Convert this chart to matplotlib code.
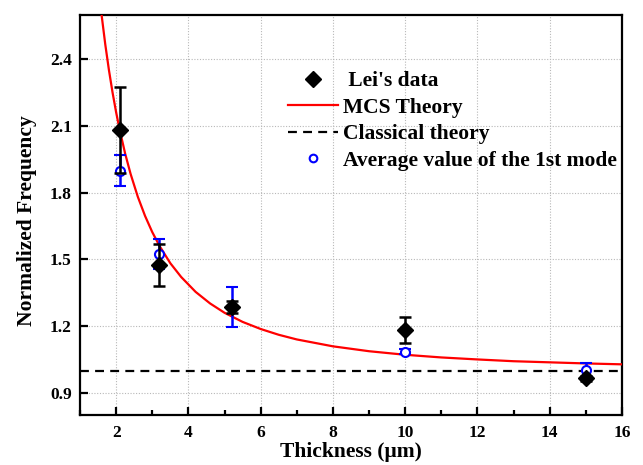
import matplotlib
matplotlib.use("Agg")
import matplotlib.pyplot as plt
from matplotlib.lines import Line2D
from matplotlib.ticker import MultipleLocator

plt.rcParams['font.family'] = ['Liberation Serif', 'DejaVu Serif']
plt.rcParams['font.weight'] = 'bold'
plt.rcParams['mathtext.default'] = 'bf'

# Lei's data
lei_x = [2.1, 3.2, 5.2, 10, 15]
lei_y = [2.083, 1.475, 1.285, 1.183, 0.965]
lei_err = [0.195, 0.095, 0.026, 0.06, 0.01]

# Average value of the 1st mode
avg_x = [2.1, 3.2, 5.2, 10, 15]
avg_y = [1.900, 1.525, 1.287, 1.085, 1.003]
avg_err = [0.07, 0.066, 0.09, 0.01, 0.03]

# MCS theory curve
mcs_x = [1.6, 1.7, 1.8, 1.9, 2.0, 2.1, 2.25, 2.4, 2.6, 2.8, 3.0, 3.2, 3.5, 3.8,
         4.2, 4.6, 5.0, 5.5, 6.0, 6.5, 7.0, 8.0, 9.0, 10, 11, 12, 13, 14, 15, 16]
mcs_y = [2.597, 2.467, 2.353, 2.252, 2.162, 2.082, 1.976, 1.885, 1.782, 1.696,
         1.623, 1.561, 1.483, 1.421, 1.354, 1.302, 1.260, 1.219, 1.187, 1.161,
         1.140, 1.109, 1.087, 1.071, 1.059, 1.050, 1.042, 1.037, 1.032, 1.028]

classical_y = 1.0

yticks = [0.9, 1.2, 1.5, 1.8, 2.1, 2.4]
ytick_labels = ['0.9', '1.2', '1.5', '1.8', '2.1', '2.4']

fig = plt.figure(figsize=(6.43, 4.65), dpi=100)
ax = fig.add_axes([80/643, 50/465, 542/643, 400/465])

ax.axhline(classical_y, color='black', lw=1.6, ls=(0, (4, 2.8)), zorder=2)
ax.plot(mcs_x, mcs_y, color='red', lw=1.6, zorder=3)
ax.errorbar(avg_x, avg_y, yerr=avg_err, fmt='o', mfc='white', mec='blue', mew=1.5,
            ms=6.5, ecolor='blue', elinewidth=1.8, capsize=4, capthick=1.8, zorder=4)
ax.errorbar(lei_x, lei_y, yerr=lei_err, fmt='D', color='black', ms=8,
            ecolor='black', elinewidth=1.8, capsize=4, capthick=1.8, zorder=5)

ax.set_xlim(1, 16)
ax.set_ylim(0.8, 2.6)
ax.xaxis.set_major_locator(MultipleLocator(2))
ax.xaxis.set_minor_locator(MultipleLocator(1))
ax.set_yticks(yticks)
ax.set_yticklabels(ytick_labels)

ax.grid(True, which='major', color='#b8b8b8', ls=(0, (1, 1.5)), lw=0.8)
ax.tick_params(which='major', direction='in', length=6, width=1.6, labelsize=12.5)
ax.tick_params(axis='x', which='major', pad=7)
ax.tick_params(axis='y', which='major', pad=6)
ax.tick_params(which='minor', direction='in', length=3.5, width=1.6)
ax.tick_params(axis='y', which='minor', left=False)
for s in ax.spines.values():
    s.set_linewidth(1.6)
for lab in ax.get_xticklabels() + ax.get_yticklabels():
    lab.set_fontweight('bold')

ax.set_xlabel('Thickness (μm)', fontsize=15.5, fontweight='bold', labelpad=1)
ax.set_ylabel('Normalized Frequency', fontsize=15.5, fontweight='bold', labelpad=9)
ax.yaxis.label.set_y(0.485)

handles = [
    Line2D([], [], marker='D', color='black', ls='none', ms=8),
    Line2D([], [], color='red', lw=1.6),
    Line2D([], [], color='black', lw=1.6, ls=(0, (4, 2.8))),
    Line2D([], [], marker='o', mfc='white', mec='blue', mew=1.5, ms=5.5, ls='none'),
]
labels = [" Lei's data", 'MCS Theory', 'Classical theory', 'Average value of the 1st mode']
leg = ax.legend(handles, labels, loc='upper left', bbox_to_anchor=(0.384, 0.86),
                frameon=False, handlelength=2.3, handletextpad=0.25,
                labelspacing=0.3, borderaxespad=0, borderpad=0,
                prop={'weight': 'bold', 'size': 15.5})

fig.savefig('out.png', dpi=100)
